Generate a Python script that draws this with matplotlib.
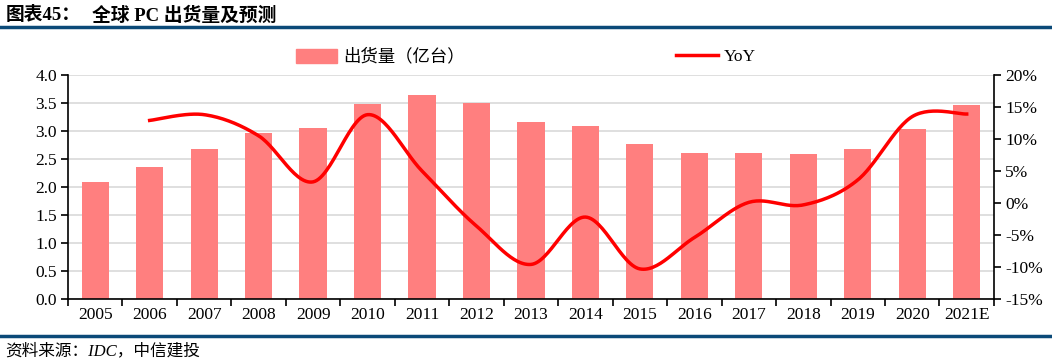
import numpy as np
import matplotlib
matplotlib.use('Agg')
from matplotlib import pyplot as plt
from matplotlib.lines import Line2D
from matplotlib.patches import Patch

years = ['2005', '2006', '2007', '2008', '2009', '2010', '2011', '2012', '2013',
         '2014', '2015', '2016', '2017', '2018', '2019', '2020', '2021E']
shipments = [2.09, 2.36, 2.68, 2.96, 3.05, 3.48, 3.64, 3.50, 3.16,
             3.09, 2.77, 2.60, 2.60, 2.59, 2.68, 3.04, 3.46]
yoy = [None, 12.9, 13.8, 10.5, 3.3, 13.8, 5.0, -3.6, -9.6,
       -2.2, -10.3, -5.4, 0.1, -0.3, 3.6, 13.5, 13.9]

FONTS = ['Liberation Serif', 'Noto Sans CJK SC']
BAR_COLOR = '#ff7f7f'
LINE_COLOR = '#ff0000'


def smooth(xs, ys, n=30):
    # catmull-rom, like excel's smoothed line (end points doubled)
    xs = np.asarray(xs, float)
    ys = np.asarray(ys, float)
    px = np.concatenate([[xs[0]], xs, [xs[-1]]])
    py = np.concatenate([[ys[0]], ys, [ys[-1]]])
    outx, outy = [], []
    t = np.linspace(0, 1, n)
    for i in range(1, len(px) - 2):
        for arr, out in ((px, outx), (py, outy)):
            p0, p1, p2, p3 = arr[i - 1], arr[i], arr[i + 1], arr[i + 2]
            out.extend(0.5 * ((2 * p1) + (-p0 + p2) * t +
                              (2 * p0 - 5 * p1 + 4 * p2 - p3) * t ** 2 +
                              (-p0 + 3 * p1 - 3 * p2 + p3) * t ** 3))
    return outx, outy


fig = plt.figure(figsize=(10.52, 3.64), dpi=100)
ax = fig.add_axes([0.0646, 0.1786, 0.8802, 0.6154])
x = np.arange(len(years))
ax.bar(x, shipments, width=0.5, color=BAR_COLOR, zorder=2)
ax.set_xlim(-0.5, len(years) - 0.5)
ax.set_ylim(0, 4.0)
ax.set_yticks(np.arange(0, 4.01, 0.5))
ax.set_yticklabels(['%.1f' % v for v in np.arange(0, 4.01, 0.5)], family=FONTS, fontsize=12.5)
ax.grid(axis='y', color='#d9d9d9', linewidth=1.2, zorder=0)
ax.set_xticks(x)
ax.set_xticklabels(years, family=FONTS, fontsize=12.5)
ax.tick_params(axis='x', length=0, pad=6)
ax.set_xticks(np.arange(-0.5, len(years), 1), minor=True)
ax.tick_params(axis='x', which='minor', length=5, direction='out', width=1.2)
ax.tick_params(axis='y', length=5, direction='out', width=1.2, pad=3)
for s in ['top', 'right']:
    ax.spines[s].set_visible(False)
ax.spines['left'].set_linewidth(1.2)
ax.spines['bottom'].set_linewidth(1.2)

ax2 = ax.twinx()
ax2.set_ylim(-15, 20)
ax2.set_yticks(np.arange(-15, 21, 5))
ax2.set_yticklabels(['%d%%' % v for v in np.arange(-15, 21, 5)], family=FONTS, fontsize=12.5)
ax2.tick_params(axis='y', length=5, direction='out', width=1.2, pad=3)
for s in ['top', 'left', 'bottom']:
    ax2.spines[s].set_visible(False)
ax2.spines['right'].set_linewidth(1.2)
xs = [i for i, v in enumerate(yoy) if v is not None]
ys = [v for v in yoy if v is not None]
sx, sy = smooth(xs, ys)
ax2.plot(sx, sy, color=LINE_COLOR, linewidth=2.5, zorder=3)

# legend
handles = [Patch(color=BAR_COLOR), Line2D([0], [0], color=LINE_COLOR, linewidth=2.5)]
fig.legend(handles[:1], ['出货量（亿台）'], loc='center left', bbox_to_anchor=(0.281, 0.843),
           frameon=False, prop={'family': FONTS, 'size': 12.5}, handlelength=2.4,
           handleheight=0.9, handletextpad=0.35, borderpad=0, borderaxespad=0)
fig.legend(handles[1:], ['YoY'], loc='center left', bbox_to_anchor=(0.643, 0.843),
           frameon=False, prop={'family': FONTS, 'size': 12.5}, handlelength=2.4,
           handletextpad=0.35, borderpad=0, borderaxespad=0)

# title and source
fig.text(0.005, 0.958, '图表45：', family=FONTS, fontsize=13.5, weight='bold', va='center')
fig.text(0.087, 0.958, '全球 PC 出货量及预测', family=FONTS, fontsize=13.5, weight='bold', va='center')
fig.add_artist(Line2D([0, 1], [0.925, 0.925], color='#0b4a78', linewidth=2.5))
fig.add_artist(Line2D([0, 1], [0.077, 0.077], color='#0b4a78', linewidth=2.5))
fig.text(0.005, 0.035, '资料来源：IDC，中信建投', family=FONTS, fontsize=12, style='italic', va='center')

fig.savefig('out.png', dpi=100)
